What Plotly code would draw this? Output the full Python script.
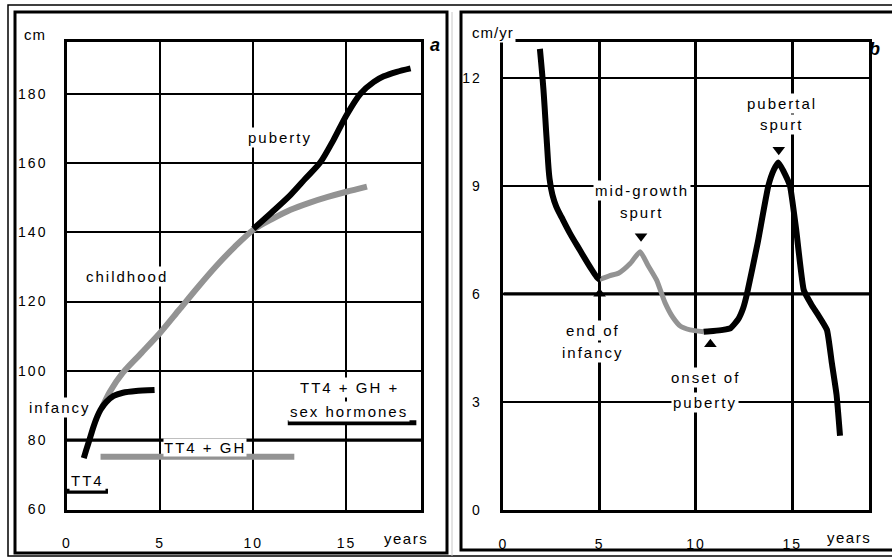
import plotly.graph_objects as go

W, H = 892, 558

# ---------------- panel a : height (cm) vs age (years) ----------------
inf_age = [0.9, 1.05, 1.2, 1.4, 1.6, 1.8, 2.1, 2.5, 3.0, 3.7, 4.7]
inf_cm = [74.8, 77.5, 80, 83.5, 86.5, 88.8, 91, 92.8, 93.7, 94.2, 94.5]

child_age = [1.87, 2.3, 3.0, 4.0, 5.0, 6.0, 7.0, 8.0, 9.0, 10.0,
             11.0, 12.0, 13.0, 14.0, 15.0, 16.1]
child_cm = [89.3, 94.0, 99.5, 105.2, 111.0, 117.5, 124.0, 130.2, 135.8, 140.7,
            143.8, 146.5, 148.5, 150.2, 151.7, 153.2]

pub_age = [10.0, 11.0, 12.0, 12.8, 13.6, 14.3, 15.0, 15.75, 16.47, 17.0, 17.7, 18.44]
pub_cm = [141.0, 145.8, 150.8, 155.5, 160.2, 166.6, 173.8, 180.0, 183.4, 185.0, 186.3, 187.3]

# hormone bars
horm_names = ["TT4", "TT4 + GH", "TT4 + GH + sex hormones"]
horm_start = [0.0, 1.8, 11.85]
horm_end = [2.2, 12.2, 18.75]
horm_level = [65.3, 75.2, 85.0]

a_xticks = [0, 5, 10, 15]
a_yticks = [60, 80, 100, 120, 140, 160, 180]
a_ref = [80]

# ---------------- panel b : growth velocity (cm/yr) ----------------
vinf_age = [1.9, 2.08, 2.25, 2.4, 2.55, 2.75, 3.03, 3.46, 3.98, 4.5, 4.85, 5.0]
vinf_v = [12.8, 11.7, 10.3, 9.2, 8.75, 8.42, 8.12, 7.68, 7.21, 6.75, 6.47, 6.4]

vmid_age = [5.0, 5.5, 6.0, 6.6, 7.1, 7.5, 7.96, 8.4, 8.8, 9.2, 9.7, 10.4]
vmid_v = [6.4, 6.5, 6.58, 6.85, 7.17, 6.8, 6.38, 5.75, 5.35, 5.1, 5.0, 4.95]

vpub_age = [10.4, 10.9, 11.4, 11.8, 12.2, 12.45, 12.65, 13.2, 13.76, 14.05, 14.28,
            14.55, 14.88, 15.2, 15.6, 16.0, 16.3, 16.8, 17.05, 17.3, 17.48]
vpub_v = [4.95, 4.97, 5.0, 5.05, 5.3, 5.6, 6.0, 7.4, 9.0, 9.45, 9.65,
          9.4, 9.0, 7.8, 6.1, 5.7, 5.45, 5.0, 4.1, 3.2, 2.06]

event_age = [5.0, 7.15, 10.75, 14.3]
event_v = [6.0, 7.6, 4.6, 10.0]
event_symbol = ["triangle-up", "triangle-down", "triangle-up", "triangle-down"]

b_xticks = [0, 5, 10, 15]
b_yticks = [0, 3, 6, 9, 12]
b_ref = [6]

BLACK = "#000000"
GREY = "#939393"
FONT = "Liberation Sans, Arial, Helvetica, sans-serif"


def sp(t, s=2):
    return f'<span style="letter-spacing:{s}px">{t}</span>'


def px(x):
    return x / W


def py(y):
    return 1 - y / H


fig = go.Figure()

# panel a curves
fig.add_trace(go.Scatter(x=child_age, y=child_cm, mode="lines",
                         line=dict(color=GREY, width=6, shape="spline", smoothing=0.8),
                         xaxis="x", yaxis="y"))
fig.add_trace(go.Scatter(x=inf_age, y=inf_cm, mode="lines",
                         line=dict(color=BLACK, width=6, shape="spline", smoothing=0.6),
                         xaxis="x", yaxis="y"))
fig.add_trace(go.Scatter(x=pub_age, y=pub_cm, mode="lines",
                         line=dict(color=BLACK, width=6, shape="spline", smoothing=0.8),
                         xaxis="x", yaxis="y"))
horm_colors = [BLACK, GREY, BLACK]
horm_widths = [5, 6, 5]
for s, e, lv, c, w in zip(horm_start, horm_end, horm_level, horm_colors, horm_widths):
    fig.add_trace(go.Scatter(x=[s, e], y=[lv, lv], mode="lines",
                             line=dict(color=c, width=w), xaxis="x", yaxis="y"))

# panel b curves
fig.add_trace(go.Scatter(x=vmid_age, y=vmid_v, mode="lines",
                         line=dict(color=GREY, width=5, shape="spline", smoothing=0.5),
                         xaxis="x2", yaxis="y2"))
fig.add_trace(go.Scatter(x=vinf_age, y=vinf_v, mode="lines",
                         line=dict(color=BLACK, width=6, shape="spline", smoothing=1.0),
                         xaxis="x2", yaxis="y2"))
fig.add_trace(go.Scatter(x=vpub_age, y=vpub_v, mode="lines",
                         line=dict(color=BLACK, width=6, shape="spline", smoothing=0.4),
                         xaxis="x2", yaxis="y2"))
fig.add_trace(go.Scatter(x=event_age, y=event_v, mode="markers",
                         marker=dict(symbol=event_symbol, size=11, color=BLACK),
                         xaxis="x2", yaxis="y2"))

shapes = []
# thick reference lines
for v in a_ref:
    shapes.append(dict(type="line", xref="x", yref="y", x0=0, x1=19, y0=v, y1=v,
                       line=dict(color=BLACK, width=3.3), layer="below"))
for v in b_ref:
    shapes.append(dict(type="line", xref="x2", yref="y2", x0=0, x1=19, y0=v, y1=v,
                       line=dict(color=BLACK, width=3.3), layer="below"))


# frames (paper coords == pixels since margins are zero)
def rect(x0, y0, x1, y1, w, col=BLACK):
    return dict(type="rect", xref="paper", yref="paper",
                x0=px(x0), x1=px(x1), y0=py(y1), y1=py(y0),
                line=dict(color=col, width=w), fillcolor="rgba(0,0,0,0)")


shapes.append(rect(8, 5, 905, 556, 1.5))
shapes.append(rect(15, 12, 447, 553, 3))
shapes.append(rect(461, 12, 905, 550, 3))
shapes.append(dict(type="line", xref="paper", yref="paper", x0=px(452), x1=px(452),
                   y0=py(556), y1=py(12), line=dict(color="#c8c8c8", width=1)))

ann = []


def label(text, x, y, size=15, bg="white", xanchor="center", pad=1, spacing=2):
    ann.append(dict(text=sp(text, spacing), x=px(x), y=py(y), xref="paper", yref="paper",
                    showarrow=False, xanchor=xanchor, yanchor="middle",
                    font=dict(family=FONT, size=size, color=BLACK),
                    bgcolor=bg, borderpad=pad))


# panel a labels
label("cm", 22, 35, xanchor="left", spacing=1)
label("puberty", 280, 137)
label("childhood", 127, 276)
label("infancy", 59.5, 407)
label("TT4 + GH +", 349, 387)
label("sex hormones", 349, 411)
label("TT4 + GH", 205, 447, pad=0)
label(horm_names[0], 87.5, 480)
label("years", 406, 538, spacing=1.5)
ann.append(dict(text="<b><i>a</i></b>", x=px(435), y=py(33), xref="paper", yref="paper",
                showarrow=False, font=dict(family=FONT, size=18, color=BLACK)))

# panel b labels
label("cm/yr", 470, 33, xanchor="left", spacing=1)
label("pubertal", 781.7, 103)
label("spurt", 781.7, 125)
label("mid-growth", 641.7, 190)
label("spurt", 641.7, 212)
label("end of", 593.3, 330)
label("infancy", 593.3, 352)
label("onset of", 705, 377)
label("puberty", 705, 402)
label("years", 849, 537, spacing=1.5)
ann.append(dict(text="<b><i>b</i></b>", x=px(882), y=py(37), xref="paper", yref="paper",
                showarrow=False, font=dict(family=FONT, size=18, color=BLACK)))

tickfont = dict(family=FONT, size=14, color=BLACK)
common = dict(showline=True, mirror=True, linecolor=BLACK, linewidth=2.5,
              zeroline=False, ticks="outside", tickcolor="rgba(0,0,0,0)",
              gridcolor=BLACK, tickfont=tickfont, automargin=False, fixedrange=True)

fig.update_layout(
    width=W, height=H, autosize=False,
    margin=dict(l=0, r=0, t=0, b=0, pad=0),
    paper_bgcolor="white", plot_bgcolor="white",
    showlegend=False,
    xaxis=dict(domain=[67 / W, 421 / W], range=[0, 19], anchor="y",
               tickvals=a_xticks, ticktext=[sp(t, 2) for t in a_xticks],
               ticklen=19, gridwidth=1.7, **common),
    yaxis=dict(domain=[1 - 509.5 / H, 1 - 41.7 / H], range=[60, 195], anchor="x",
               tickvals=a_yticks, ticktext=[sp(t, 2) for t in a_yticks],
               ticklen=14, gridwidth=1.7, **common),
    xaxis2=dict(domain=[503.3 / W, 869.3 / W], range=[0, 19], anchor="y2",
                tickvals=b_xticks, ticktext=[sp(t, 2) for t in b_xticks],
                ticklen=19, gridwidth=3, **common),
    yaxis2=dict(domain=[1 - 510 / H, 1 - 41.7 / H], range=[0, 13], anchor="x2",
                tickvals=b_yticks, ticktext=[sp(t, 2) for t in b_yticks],
                ticklen=16, gridwidth=1.7, **common),
    shapes=shapes,
    annotations=ann,
)

fig.write_html("out.html",
               config={"displayModeBar": False},
               post_script="document.body.style.margin='0px';"
                           "document.body.style.overflow='hidden';")
